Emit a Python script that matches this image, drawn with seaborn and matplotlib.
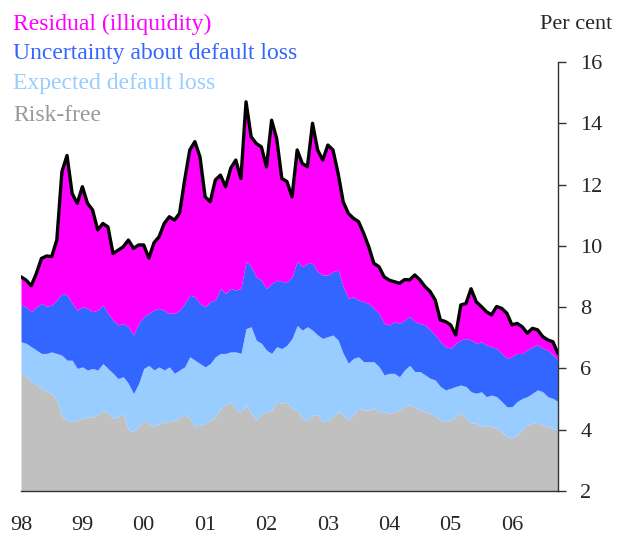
import numpy as np
import pandas as pd
import seaborn as sns
import matplotlib.pyplot as plt
from matplotlib.ticker import FixedLocator, MultipleLocator

# monthly readings, Jan 1998 .. Oct 2006 (top of each stacked layer, per cent)
risk_free = [5.89, 5.73, 5.56, 5.46, 5.35, 5.24, 5.18, 4.97, 4.42, 4.31, 4.26, 4.31,
             4.37, 4.42, 4.42, 4.48, 4.64, 4.53, 4.37, 4.42, 4.53, 3.99, 3.93, 4.10,
             4.31, 4.20, 4.10, 4.20, 4.26, 4.26, 4.31, 4.37, 4.53, 4.37, 4.10, 4.15,
             4.20, 4.31, 4.42, 4.69, 4.80, 4.91, 4.64, 4.58, 4.80, 4.53, 4.31, 4.53,
             4.58, 4.64, 4.91, 4.86, 4.90, 4.68, 4.64, 4.37, 4.32, 4.48, 4.48, 4.26,
             4.32, 4.42, 4.59, 4.48, 4.32, 4.48, 4.70, 4.64, 4.64, 4.70, 4.59, 4.59,
             4.53, 4.59, 4.64, 4.75, 4.81, 4.75, 4.64, 4.59, 4.54, 4.43, 4.32, 4.26,
             4.32, 4.43, 4.54, 4.37, 4.21, 4.21, 4.10, 4.15, 4.10, 4.04, 3.93, 3.77,
             3.72, 3.83, 3.99, 4.15, 4.21, 4.21, 4.15, 4.10, 4.04, 3.99]
cum_expected = [6.87, 6.82, 6.71, 6.60, 6.49, 6.49, 6.54, 6.49, 6.43, 6.27, 6.27, 6.00,
                6.05, 5.95, 6.00, 5.95, 6.16, 6.00, 5.84, 5.67, 5.73, 5.51, 5.18, 5.51,
                6.00, 6.10, 5.95, 6.05, 5.95, 6.05, 5.84, 5.95, 6.05, 6.38, 6.27, 6.16,
                6.05, 6.16, 6.38, 6.49, 6.49, 6.54, 6.54, 6.49, 7.30, 7.36, 6.92, 6.82,
                6.60, 6.49, 6.71, 6.65, 6.76, 6.98, 7.40, 7.25, 7.36, 7.25, 7.09, 6.98,
                7.04, 7.09, 6.93, 6.49, 6.17, 6.33, 6.38, 6.22, 6.22, 6.22, 6.06, 5.79,
                5.84, 5.84, 5.73, 5.95, 6.10, 5.90, 5.90, 5.79, 5.68, 5.62, 5.41, 5.30,
                5.35, 5.41, 5.46, 5.41, 5.24, 5.19, 5.24, 5.08, 5.13, 5.08, 4.92, 4.75,
                4.75, 4.92, 5.02, 5.08, 5.19, 5.30, 5.24, 5.08, 5.02, 4.92]
cum_uncertainty = [8.07, 8.01, 7.85, 8.01, 8.12, 8.03, 8.07, 8.23, 8.45, 8.40, 8.12, 7.90,
                   8.01, 7.96, 7.85, 7.90, 8.07, 7.80, 7.58, 7.42, 7.47, 7.36, 7.09, 7.47,
                   7.69, 7.80, 7.90, 7.96, 7.90, 7.80, 7.80, 7.90, 8.12, 8.39, 8.34, 8.12,
                   8.01, 8.18, 8.23, 8.61, 8.45, 8.61, 8.56, 8.61, 9.50, 9.32, 8.99, 8.88,
                   8.61, 8.77, 8.88, 8.83, 8.83, 8.99, 9.50, 9.32, 9.43, 9.43, 9.16, 9.05,
                   9.05, 9.16, 9.21, 8.67, 8.29, 8.34, 8.23, 8.18, 8.12, 7.96, 7.80, 7.47,
                   7.42, 7.53, 7.47, 7.58, 7.70, 7.53, 7.47, 7.42, 7.26, 7.09, 6.87, 6.71,
                   6.66, 6.82, 6.93, 6.98, 6.93, 6.82, 6.87, 6.77, 6.71, 6.66, 6.49, 6.33,
                   6.39, 6.49, 6.49, 6.60, 6.71, 6.77, 6.66, 6.60, 6.44, 6.28]
total_spread = [8.99, 8.88, 8.70, 9.10, 9.59, 9.67, 9.65, 10.19, 12.42, 12.95, 11.71, 11.39,
                11.93, 11.39, 11.17, 10.52, 10.73, 10.62, 9.75, 9.86, 9.97, 10.19, 9.92, 10.03,
                10.03, 9.60, 10.10, 10.30, 10.73, 10.95, 10.84, 11.06, 12.15, 13.13, 13.40, 12.90,
                11.60, 11.44, 12.15, 12.31, 11.93, 12.53, 12.80, 12.20, 14.70, 13.56, 13.34, 13.23,
                12.58, 14.10, 13.50, 12.20, 12.10, 11.60, 13.13, 12.69, 12.58, 14.00, 13.13, 12.80,
                13.29, 13.13, 12.37, 11.44, 11.06, 10.90, 10.79, 10.41, 9.97, 9.43, 9.32, 8.99,
                8.88, 8.83, 8.78, 8.90, 8.89, 9.05, 8.89, 8.67, 8.51, 8.23, 7.58, 7.53,
                7.42, 7.09, 8.07, 8.12, 8.60, 8.18, 8.02, 7.85, 7.75, 8.02, 7.96, 7.80,
                7.42, 7.47, 7.36, 7.15, 7.31, 7.26, 7.04, 6.93, 6.87, 6.49]

year_labels = ['98', '99', '00', '01', '02', '03', '04', '05', '06']
legend_labels = ['Residual (illiquidity)', 'Uncertainty about default loss',
                 'Expected default loss', 'Risk-free']
layer_colors = ['#FF00FF', '#3366FF', '#99CCFF', '#C0C0C0']
legend_colors = ['#FF00FF', '#3366FF', '#99CCFF', '#999999']

sns.set_style('white')
plt.rcParams['font.family'] = ['Liberation Serif', 'DejaVu Serif']

months = np.arange(len(total_spread))
df = pd.DataFrame({'t': 1998 + months / 12,
                   'risk_free': risk_free,
                   'expected': cum_expected,
                   'uncertainty': cum_uncertainty,
                   'total': total_spread})

fig = plt.figure(figsize=(6.18, 5.39), dpi=100)
ax = fig.add_axes([21 / 618, 1 - 491 / 539, 537 / 618, 429 / 539])

bottom = 2
for col, color in zip(['risk_free', 'expected', 'uncertainty', 'total'], layer_colors[::-1]):
    ax.fill_between(df['t'], bottom, df[col], color=color, lw=0)
    bottom = df[col]
sns.lineplot(df, x='t', y='total', color='black', lw=2.4, ax=ax)

ax.set_xlim(1998, df['t'].iloc[-1])
ax.set_ylim(2, 16)
ax.set_xlabel('')
ax.set_ylabel('')
ax.xaxis.set_major_locator(FixedLocator(range(1998, 2007)))
ax.xaxis.set_minor_locator(MultipleLocator(0.25))
ax.set_xticklabels(year_labels)
ax.yaxis.tick_right()
ax.set_yticks(range(2, 17, 2))

for side in ['top', 'left']:
    ax.spines[side].set_visible(False)
for side in ['right', 'bottom']:
    ax.spines[side].set_color('#333333')
    ax.spines[side].set_linewidth(1)

ax.tick_params(axis='x', which='major', direction='in', length=5, width=1, color='#333333',
               pad=18, labelsize=16)
ax.tick_params(axis='x', which='minor', direction='in', length=3, width=1, color='#333333')
ax.tick_params(axis='y', direction='out', length=6, width=1, color='#333333', pad=10,
               labelsize=16, right=True, left=False)

baselines = [30, 59, 89, 121]
for label, color, yb in zip(legend_labels, legend_colors, baselines):
    fig.text(13 / 618, 1 - yb / 539, label, color=color, fontsize=17, va='baseline', ha='left')
fig.text(612 / 618, 1 - 29 / 539, 'Per cent', fontsize=16, va='baseline', ha='right')

fig.savefig('out.png', dpi=100)
